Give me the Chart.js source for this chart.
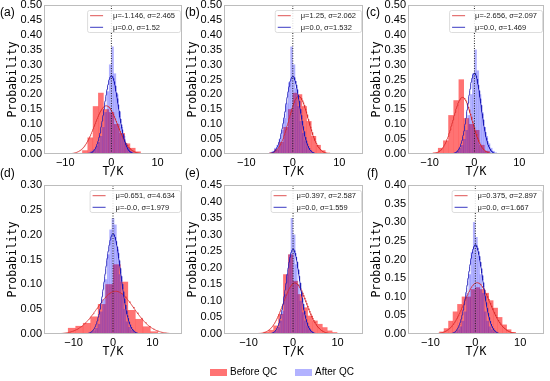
<!DOCTYPE html>
<html><head><meta charset="utf-8">
<script src="https://cdn.jsdelivr.net/npm/chart.js@4.4.1/dist/chart.umd.min.js"></script>
<style>
html,body{margin:0;padding:0;background:#fff;}
#wrap{position:relative;width:550px;height:381px;overflow:hidden;background:#fff;}
#wrap canvas{position:absolute;}
.plab{position:absolute;font:12px "Liberation Sans",Arial,sans-serif;color:#000;line-height:14px;white-space:nowrap;}
.lgtxt{position:absolute;font:10px "Liberation Sans",Arial,sans-serif;color:#000;line-height:12px;white-space:nowrap;}
.patch{position:absolute;width:17px;height:7px;}
</style></head>
<body><div id="wrap"></div>
<script>
// ---------------- data ----------------
const panelNames = ['(a)', '(b)', '(c)', '(d)', '(e)', '(f)'];
const seriesNames = ['Before QC', 'After QC'];
const xMin = [-14.6, -14.8, -14.8, -17.5, -15.5, -15.0];
const xMax = [15.3, 15.1, 15.5, 17.5, 15.7, 15.3];
const xTickStep = 10;
const yMax = [0.5, 0.5, 0.5, 0.3, 0.45, 0.4];
const yTickStep = 0.05;

const redMu = [-1.146, 1.25, -2.656, 0.651, 0.397, 0.375];
const redSigma = [2.465, 2.062, 2.097, 4.634, 2.587, 2.897];
const blueMu = [0.0, 0.0, 0.0, -0.0, 0.0, 0.0];
const blueSigma = [1.52, 1.532, 1.469, 1.979, 1.559, 1.667];
const redFitLabels = ['μ=-1.146, σ=2.465', 'μ=1.25, σ=2.062', 'μ=-2.656, σ=2.097', 'μ=0.651, σ=4.634', 'μ=0.397, σ=2.587', 'μ=0.375, σ=2.897'];
const blueFitLabels = ['μ=0.0, σ=1.52', 'μ=0.0, σ=1.532', 'μ=0.0, σ=1.469', 'μ=-0.0, σ=1.979', 'μ=0.0, σ=1.559', 'μ=0.0, σ=1.667'];

// histogram bin centres and densities
const redCentersA = [-6.875, -5.725, -4.575, -3.425, -2.275, -1.125, 0.025, 1.175, 2.325, 3.475, 4.625, 5.775];
const redHeightsA = [0.003, 0.012, 0.055, 0.16, 0.205, 0.15, 0.14, 0.10, 0.07, 0.035, 0.02, 0.008];
const redCentersB = [-4.5, -3.5, -2.5, -1.5, -0.5, 0.5, 1.5, 2.5, 3.5, 4.5, 5.5, 6.5, 7.5];
const redHeightsB = [0.005, 0.015, 0.04, 0.09, 0.15, 0.205, 0.2, 0.16, 0.11, 0.06, 0.03, 0.012, 0.004];
const redCentersC = [-8.675, -7.525, -6.375, -5.225, -4.075, -2.925, -1.775, -0.625, 0.525, 1.675, 2.825];
const redHeightsC = [0.005, 0.02, 0.045, 0.13, 0.18, 0.25, 0.12, 0.10, 0.08, 0.03, 0.01];
const redCentersD = [-10.45, -8.55, -6.65, -4.75, -2.85, -0.95, 0.95, 2.85, 4.75, 6.65, 8.55, 10.45];
const redHeightsD = [0.012, 0.016, 0.022, 0.035, 0.06, 0.10, 0.14, 0.105, 0.048, 0.03, 0.015, 0.005];
const redCentersE = [-7.15, -6.05, -4.95, -3.85, -2.75, -1.65, -0.55, 0.55, 1.65, 2.75, 3.85, 4.95, 6.05, 7.15, 8.25, 9.35];
const redHeightsE = [0.003, 0.006, 0.012, 0.025, 0.06, 0.18, 0.24, 0.16, 0.12, 0.08, 0.055, 0.04, 0.03, 0.02, 0.01, 0.005];
const redCentersF = [-8.5, -7.5, -6.5, -5.5, -4.5, -3.5, -2.5, -1.5, -0.5, 0.5, 1.5, 2.5, 3.5, 4.5, 5.5, 6.5, 7.5, 8.5, 9.5];
const redHeightsF = [0.002, 0.006, 0.015, 0.035, 0.06, 0.08, 0.1, 0.1, 0.12, 0.125, 0.12, 0.11, 0.09, 0.07, 0.045, 0.025, 0.012, 0.005, 0.002];

const blueCentersHalf = [-4.75, -4.25, -3.75, -3.25, -2.75, -2.25, -1.75, -1.25, -0.75, -0.25, 0.25, 0.75, 1.25, 1.75, 2.25, 2.75, 3.25, 3.75, 4.25, 4.75];
const blueHeightsA = [0.005, 0.01, 0.015, 0.025, 0.04, 0.06, 0.09, 0.14, 0.21, 0.30, 0.36, 0.27, 0.20, 0.14, 0.09, 0.06, 0.035, 0.02, 0.01, 0.005];
const blueHeightsB = [0.005, 0.01, 0.02, 0.03, 0.05, 0.08, 0.12, 0.17, 0.24, 0.36, 0.30, 0.22, 0.16, 0.11, 0.07, 0.045, 0.025, 0.012, 0.006, 0.003];
const blueHeightsC = [0.003, 0.006, 0.01, 0.02, 0.03, 0.05, 0.08, 0.13, 0.2, 0.27, 0.35, 0.28, 0.2, 0.14, 0.09, 0.06, 0.035, 0.02, 0.01, 0.005];
const blueCentersD = [-6.0, -5.4, -4.8, -4.2, -3.6, -3.0, -2.4, -1.8, -1.2, -0.6, 0.0, 0.6, 1.2, 1.8, 2.4, 3.0, 3.6, 4.2, 4.8, 5.4, 6.0];
const blueHeightsD = [0.002, 0.004, 0.007, 0.012, 0.02, 0.045, 0.07, 0.11, 0.16, 0.21, 0.233, 0.22, 0.17, 0.12, 0.08, 0.05, 0.025, 0.014, 0.008, 0.004, 0.002];
const blueHeightsE = [0.003, 0.006, 0.01, 0.02, 0.04, 0.07, 0.12, 0.18, 0.24, 0.35, 0.30, 0.21, 0.15, 0.10, 0.065, 0.04, 0.025, 0.014, 0.008, 0.004];
const blueHeightsF = [0.003, 0.006, 0.012, 0.02, 0.035, 0.06, 0.11, 0.16, 0.22, 0.30, 0.26, 0.21, 0.16, 0.11, 0.06, 0.035, 0.02, 0.012, 0.006, 0.003];

const redCenters = [redCentersA, redCentersB, redCentersC, redCentersD, redCentersE, redCentersF];
const redHeights = [redHeightsA, redHeightsB, redHeightsC, redHeightsD, redHeightsE, redHeightsF];
const blueCenters = [blueCentersHalf, blueCentersHalf, blueCentersHalf, blueCentersD, blueCentersHalf, blueCentersHalf];
const blueHeights = [blueHeightsA, blueHeightsB, blueHeightsC, blueHeightsD, blueHeightsE, blueHeightsF];

// ---------------- layout & style ----------------
const plotRects = [
  {l: 44, t: 5, r: 182, b: 154}, {l: 224, t: 5, r: 363, b: 154}, {l: 408, t: 5, r: 544, b: 154},
  {l: 44, t: 185, r: 182, b: 334}, {l: 224, t: 185, r: 363, b: 334}, {l: 408, t: 185, r: 544, b: 334}
];
const labelPos = [[0, 5], [185, 5], [366, 5], [0, 166], [185, 166], [367, 166]];
const Y_AXIS_W = 44, TOP_PAD = 5, X_AXIS_H = 26, RIGHT_PAD = 2;
const RED_FILL = 'rgba(255,0,0,0.55)';
const BLUE_FILL = 'rgba(0,0,255,0.3)';
const RED_LINE = 'rgba(215,40,40,0.8)';
const BLUE_LINE = 'rgba(25,25,185,0.85)';
const FRAME = '#bdbdbd';
const MONO = '"DejaVu Sans Mono", "Liberation Mono", monospace';
const SANS = '"Liberation Sans", Arial, sans-serif';

Chart.defaults.font.family = SANS;
Chart.defaults.color = '#000';

function toXY(xs, ys) { return xs.map((x, k) => ({x: x, y: ys[k]})); }
function normalCurve(mu, sigma, lo, hi) {
  const a = Math.max(lo, mu - 3.5 * sigma), b = Math.min(hi, mu + 3.5 * sigma);
  const n = 160, pts = [];
  for (let k = 0; k <= n; k++) {
    const x = a + (b - a) * k / n;
    pts.push({x: x, y: Math.exp(-0.5 * ((x - mu) / sigma) ** 2) / (sigma * Math.sqrt(2 * Math.PI))});
  }
  return pts;
}

const framePlugin = {
  id: 'frame',
  afterDatasetsDraw(chart) {
    const {ctx, chartArea: a} = chart;
    ctx.save();
    ctx.strokeStyle = FRAME; ctx.lineWidth = 1;
    ctx.strokeRect(Math.round(a.left) + 0.5, Math.round(a.top) + 0.5, Math.round(a.right - a.left) - 1, Math.round(a.bottom - a.top) - 1);
    ctx.restore();
  }
};
const fitLegendPlugin = {
  id: 'fitLegend',
  afterDraw(chart, args, opts) {
    const {ctx, chartArea: a} = chart;
    ctx.save();
    ctx.font = '7.5px ' + SANS;
    const tw = Math.max(...opts.items.map(it => ctx.measureText(it.text).width));
    const w = 26 + tw + 5, h = 22;
    const x0 = a.right - 2 - w, y0 = a.top + 5;
    ctx.beginPath();
    if (ctx.roundRect) ctx.roundRect(x0 + 0.5, y0 + 0.5, w, h, 2); else ctx.rect(x0 + 0.5, y0 + 0.5, w, h);
    ctx.fillStyle = 'rgba(255,255,255,0.85)'; ctx.fill();
    ctx.strokeStyle = '#d4d4d4'; ctx.lineWidth = 0.8; ctx.stroke();
    opts.items.forEach((it, k) => {
      const yy = y0 + 5.7 + k * 11.6;
      ctx.beginPath(); ctx.moveTo(x0 + 3, yy); ctx.lineTo(x0 + 16, yy);
      ctx.strokeStyle = it.color; ctx.lineWidth = 1; ctx.stroke();
      ctx.fillStyle = '#222'; ctx.textBaseline = 'middle'; ctx.textAlign = 'left';
      ctx.fillText(it.text, x0 + 26, yy + 0.5);
    });
    ctx.restore();
  }
};

const wrap = document.getElementById('wrap');
for (let i = 0; i < 6; i++) {
  const p = plotRects[i];
  const cv = document.createElement('canvas');
  const W = (p.r - p.l) + Y_AXIS_W + RIGHT_PAD, H = (p.b - p.t) + TOP_PAD + X_AXIS_H;
  cv.width = W; cv.height = H;
  cv.style.left = (p.l - Y_AXIS_W) + 'px'; cv.style.top = (p.t - TOP_PAD) + 'px';
  cv.style.width = W + 'px'; cv.style.height = H + 'px';
  wrap.appendChild(cv);

  const lab = document.createElement('div');
  lab.className = 'plab'; lab.textContent = panelNames[i];
  lab.style.left = labelPos[i][0] + 'px'; lab.style.top = labelPos[i][1] + 'px';
  wrap.appendChild(lab);

  new Chart(cv, {
    type: 'bar',
    data: {
      datasets: [
        {type: 'line', label: 'x=0', data: [{x: 0, y: 0}, {x: 0, y: yMax[i]}], xAxisID: 'x',
         borderColor: '#222', borderWidth: 1, borderDash: [1, 1.5], pointRadius: 0, order: 1},
        {type: 'line', label: blueFitLabels[i], data: normalCurve(blueMu[i], blueSigma[i], xMin[i], xMax[i]), xAxisID: 'x',
         borderColor: BLUE_LINE, borderWidth: 1, pointRadius: 0, tension: 0, order: 2},
        {type: 'line', label: redFitLabels[i], data: normalCurve(redMu[i], redSigma[i], xMin[i], xMax[i]), xAxisID: 'x',
         borderColor: RED_LINE, borderWidth: 1, pointRadius: 0, tension: 0, order: 3},
        {type: 'bar', label: seriesNames[1], data: toXY(blueCenters[i], blueHeights[i]), xAxisID: 'x2',
         backgroundColor: BLUE_FILL, borderWidth: 0, grouped: false, barPercentage: 1, categoryPercentage: 1, inflateAmount: 0.15, order: 4},
        {type: 'bar', label: seriesNames[0], data: toXY(redCenters[i], redHeights[i]), xAxisID: 'x',
         backgroundColor: RED_FILL, borderWidth: 0, grouped: false, barPercentage: 1, categoryPercentage: 1, inflateAmount: 0.15, order: 5}
      ]
    },
    options: {
      responsive: false, animation: false, devicePixelRatio: 1,
      layout: {padding: {left: 0, top: TOP_PAD, right: RIGHT_PAD, bottom: 0}},
      plugins: {
        legend: {display: false}, tooltip: {enabled: false},
        fitLegend: {items: [{text: redFitLabels[i], color: RED_LINE}, {text: blueFitLabels[i], color: BLUE_LINE}]}
      },
      scales: {
        x: {
          type: 'linear', position: 'bottom', min: xMin[i], max: xMax[i], offset: false,
          grid: {display: false, drawTicks: false, offset: false}, border: {display: false},
          ticks: {stepSize: xTickStep, includeBounds: false, autoSkip: false, maxRotation: 0, padding: 2,
                  font: {size: 11}, color: '#000',
                  callback: v => (v < 0 ? '\u2212' + Math.abs(v) : String(v))},
          title: {display: true, text: 'T/K', font: {family: MONO, size: 11.5}, color: '#000', padding: {top: 0, bottom: 1}},
          afterFit(s) { s.height = X_AXIS_H; s.paddingLeft = 0; s.paddingRight = 0; }
        },
        x2: {type: 'linear', display: false, min: xMin[i], max: xMax[i], offset: false, grid: {offset: false}},
        y: {
          type: 'linear', min: 0, max: yMax[i],
          grid: {display: false, drawTicks: false}, border: {display: false},
          ticks: {stepSize: yTickStep, autoSkip: false, padding: 2, font: {size: 11}, color: '#000',
                  callback: v => Number(v).toFixed(2)},
          title: {display: true, text: 'Probability', font: {family: MONO, size: 11.5}, color: '#000', padding: {top: 6, bottom: 0}},
          afterFit(s) { s.width = Y_AXIS_W; s.paddingTop = 0; s.paddingBottom = 0; }
        }
      }
    },
    plugins: [framePlugin, fitLegendPlugin]
  });
}

// bottom legend
const legendItems = [
  {text: seriesNames[0], color: RED_FILL, px: 210, tx: 230},
  {text: seriesNames[1], color: BLUE_FILL, px: 295, tx: 315}
];
legendItems.forEach(it => {
  const pa = document.createElement('div');
  pa.className = 'patch'; pa.style.left = it.px + 'px'; pa.style.top = '369px'; pa.style.background = it.color;
  wrap.appendChild(pa);
  const t = document.createElement('div');
  t.className = 'lgtxt'; t.textContent = it.text; t.style.left = it.tx + 'px'; t.style.top = '366px';
  wrap.appendChild(t);
});
</script>
</body></html>
